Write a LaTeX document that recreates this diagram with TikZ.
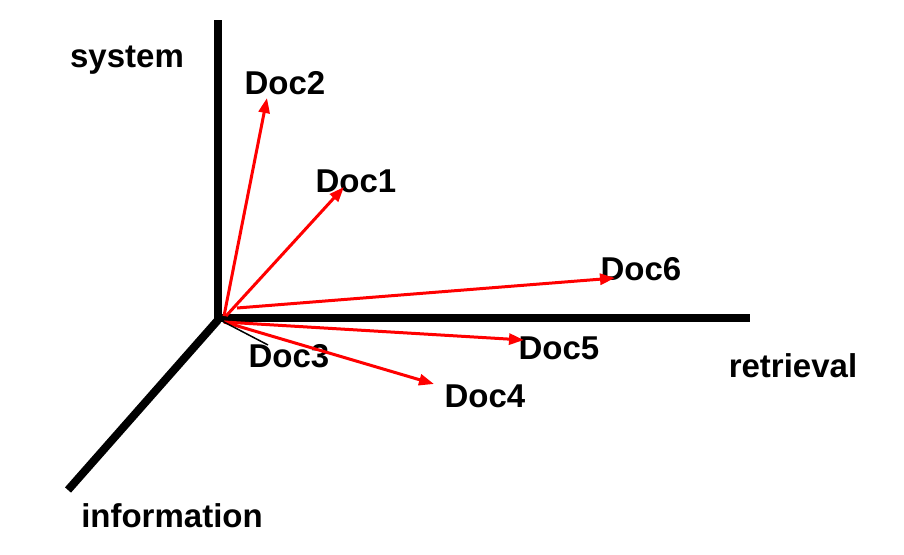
\documentclass[tikz,border=0pt]{standalone}
\usepackage{fontspec}
\setmainfont{Liberation Sans}
\usetikzlibrary{arrows.meta}
\begin{document}
\begin{tikzpicture}[x=1pt,y=-1pt,
  axis/.style={line width=8pt,black},
  vec/.style={red,line width=3pt,-{Triangle[length=15pt,width=11pt]}},
  thinvec/.style={black,line width=1.5pt},
  lbl/.style={font=\fontsize{33}{36}\selectfont\bfseries,anchor=base,inner sep=0pt}]
\useasboundingbox (0,0) rectangle (904,554);
% axes
\coordinate (O) at (218,320);
\coordinate (ytop) at (218,20);
\coordinate (xend) at (750,318);
\coordinate (zend) at (68,490);
\draw[axis] (218,318) -- (ytop);
\draw[axis] (214,318) -- (xend);
\draw[axis] (O) -- (zend);
% labels
\node[lbl] (sys) at (127,67) {system};
\node[lbl] (ret) at (793,377) {retrieval};
\node[lbl] (inf) at (172,527) {information};
\node[lbl] (d2) at (285,94) {Doc2};
\node[lbl] (d1) at (356,192) {Doc1};
\node[lbl] (d6) at (641,280) {Doc6};
\node[lbl] (d5) at (559,359) {Doc5};
\node[lbl] (d3) at (289,367) {Doc3};
\node[lbl] (d4) at (485,407) {Doc4};
% vector coordinates
\coordinate (s2) at (224,316);
\coordinate (e2) at (267,98);
\coordinate (s1) at (226,316);
\coordinate (e1) at (344,187);
\coordinate (s6) at (237,308);
\coordinate (e6) at (615,278);
\coordinate (s5) at (224,322);
\coordinate (e5) at (524,340);
\coordinate (s4) at (224,322);
\coordinate (e4) at (434,384);
\coordinate (s3) at (222,321);
\coordinate (e3) at (268,345);
\draw[vec] (s2) -- (e2);
\draw[vec] (s1) -- (e1);
\draw[vec] (s6) -- (e6);
\draw[vec] (s5) -- (e5);
\draw[vec] (s4) -- (e4);
\draw[thinvec] (s3) -- (e3);
\end{tikzpicture}
\end{document}
